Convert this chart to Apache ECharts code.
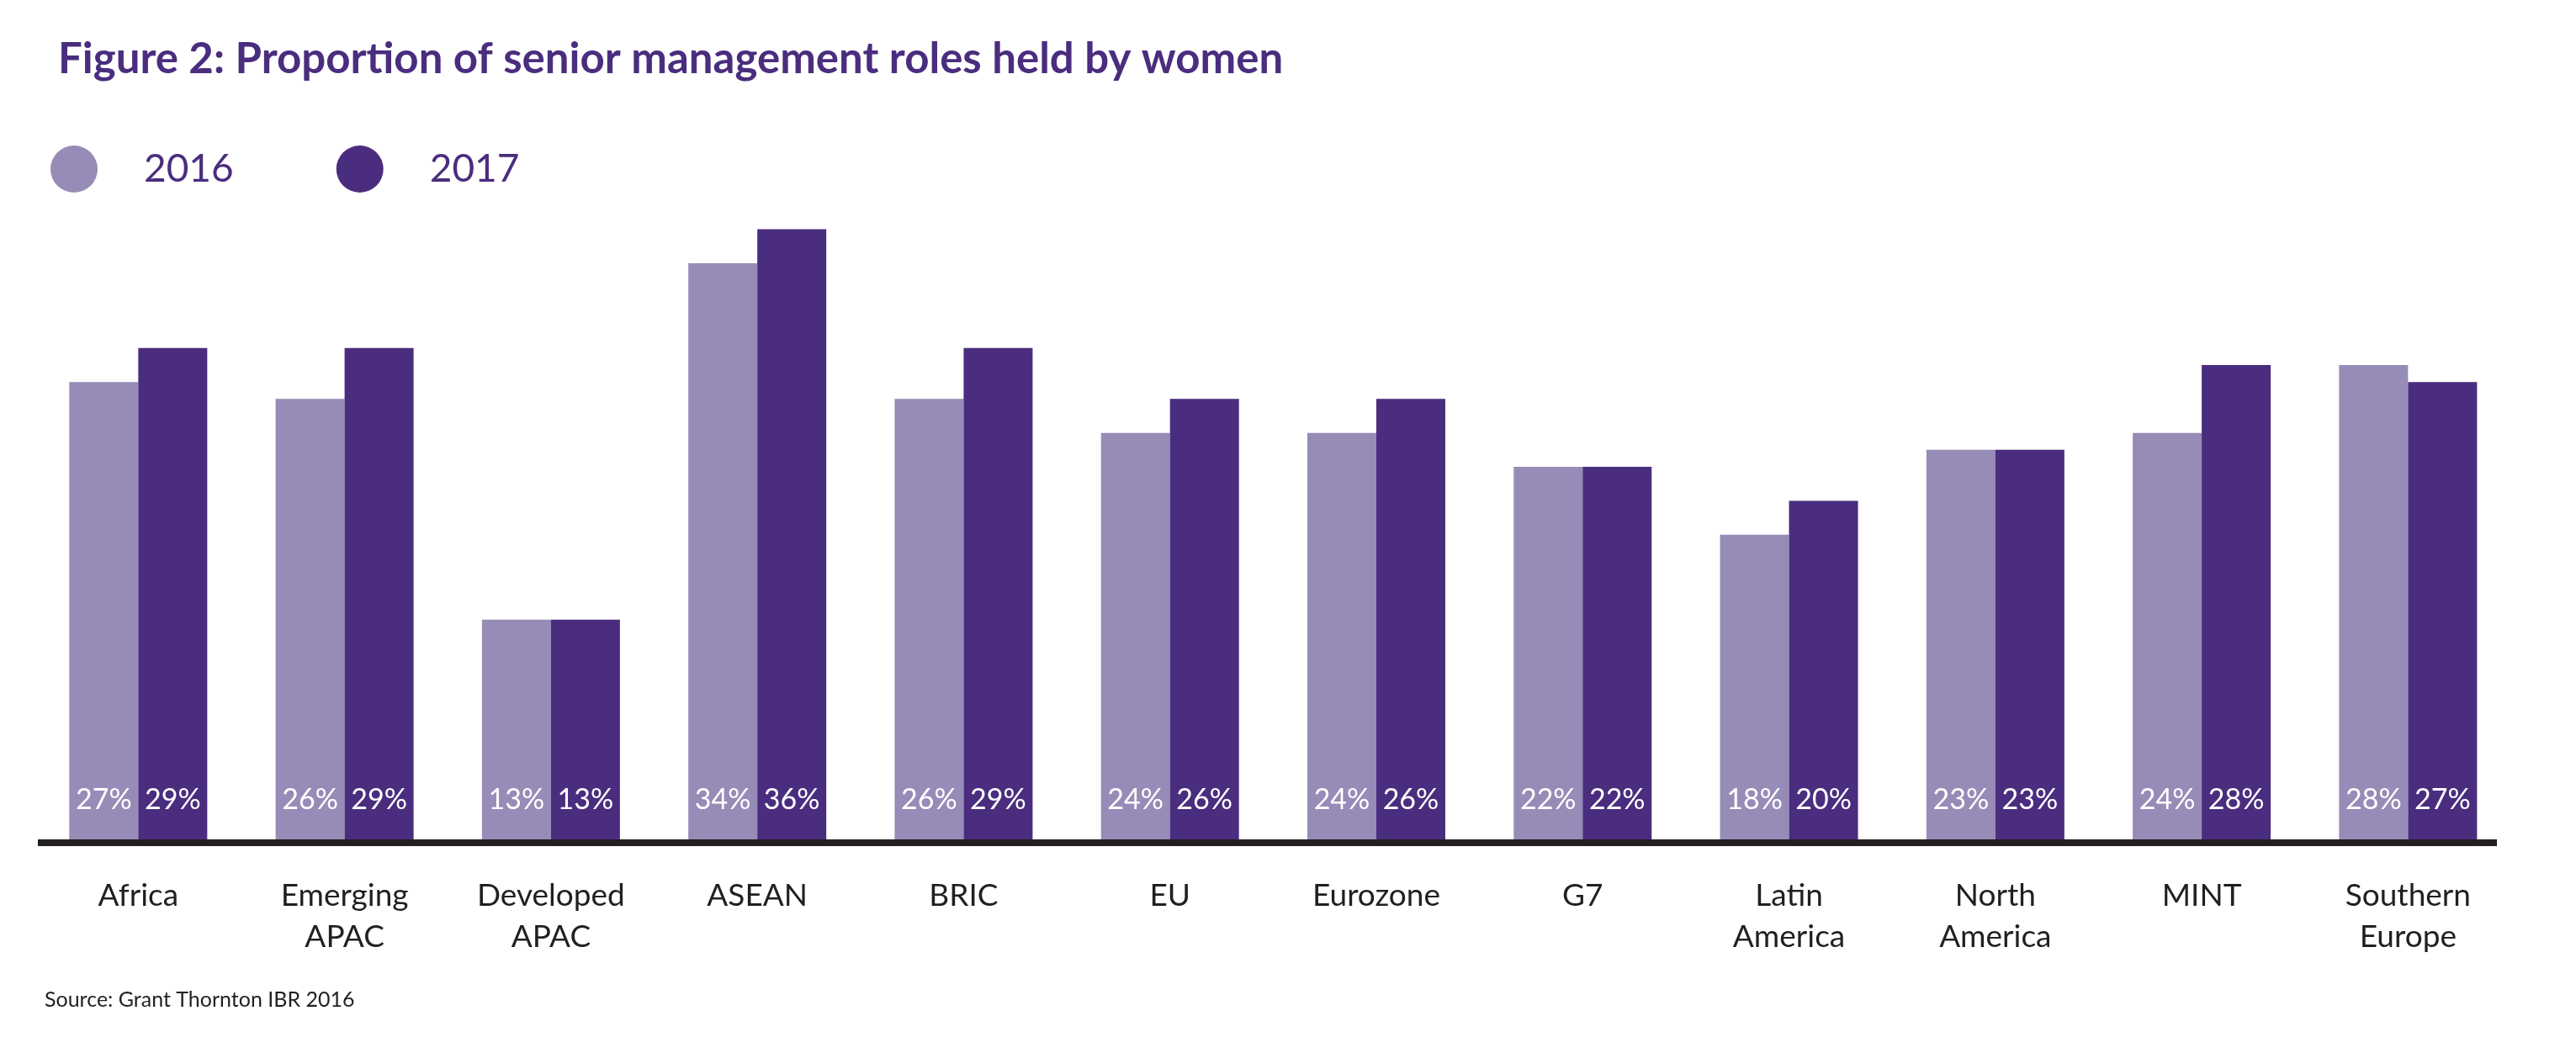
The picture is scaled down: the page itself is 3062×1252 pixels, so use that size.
<!DOCTYPE html>
<html>
<head>
<meta charset="utf-8">
<script src="https://cdn.jsdelivr.net/npm/echarts@6/dist/echarts.min.js"></script>
<style>
html,body{margin:0;padding:0;background:#fff;}
#c{width:3062px;height:1252px;}
</style>
</head>
<body>
<div id="c"></div>
<script>
const categories = ['Africa','Emerging APAC','Developed APAC','ASEAN','BRIC','EU','Eurozone','G7','Latin America','North America','MINT','Southern Europe'];
const values2016 = [27,26,13,34,26,24,24,22,18,23,24,28];
const values2017 = [29,29,13,36,29,26,26,22,20,23,28,27];
const seriesNames = ['2016','2017'];

const LIGHT = '#978cb7';
const DARK = '#4a2d7e';
const FONT = 'Lato, "Noto Sans", sans-serif';

const chart = echarts.init(document.getElementById('c'), null, {renderer:'canvas'});

const labelCfg = {
  show: true,
  position: 'insideBottom',
  distance: 31,
  color: '#ffffff',
  fontFamily: FONT,
  fontSize: 34,
  formatter: p => p.value + '%'
};

chart.setOption({
  animation: false,
  backgroundColor: '#ffffff',
  title: {
    text: 'Figure 2: Proportion of senior management roles held by women',
    left: 64, top: 40,
    textStyle: {color: DARK, fontFamily: FONT, fontWeight: 'bold', fontSize: 51}
  },
  legend: {
    left: 55, top: 168,
    icon: 'circle',
    itemWidth: 56, itemHeight: 56,
    itemGap: 122,
    data: seriesNames,
    textStyle: {color: DARK, fontFamily: FONT, fontSize: 46, padding: [0,0,0,50]}
  },
  grid: {left: 41.7, right: 77, top: 191.8, bottom: 253, containLabel: false},
  xAxis: {
    type: 'category',
    data: categories,
    axisLine: {show: false},
    axisTick: {show: false},
    axisLabel: {
      margin: 42,
      color: '#231f20',
      fontFamily: FONT,
      fontSize: 37,
      lineHeight: 49,
      formatter: v => v.replace(' ', '\n')
    }
  },
  yAxis: {
    type: 'value', min: 0, max: 40, interval: 10,
    show: false,
    splitLine: {show: false}
  },
  series: [
    {name: seriesNames[0], type: 'bar', data: values2016, barWidth: 82, barGap: '0%',
     itemStyle: {color: LIGHT}, label: labelCfg},
    {name: seriesNames[1], type: 'bar', data: values2017, barWidth: 82, barGap: '0%',
     itemStyle: {color: DARK}, label: labelCfg}
  ]
});

const y0 = chart.convertToPixel({yAxisIndex: 0}, 0);
chart.setOption({
  graphic: [
    {type: 'rect', shape: {x: 45, y: y0 - 1, width: 2923, height: 8}, style: {fill: '#231f20'}, z: 10},
    {type: 'text', left: 53, top: 1176,
     style: {text: 'Source: Grant Thornton IBR 2016', fill: '#231f20', font: '25px ' + FONT}}
  ]
});
</script>
</body>
</html>
